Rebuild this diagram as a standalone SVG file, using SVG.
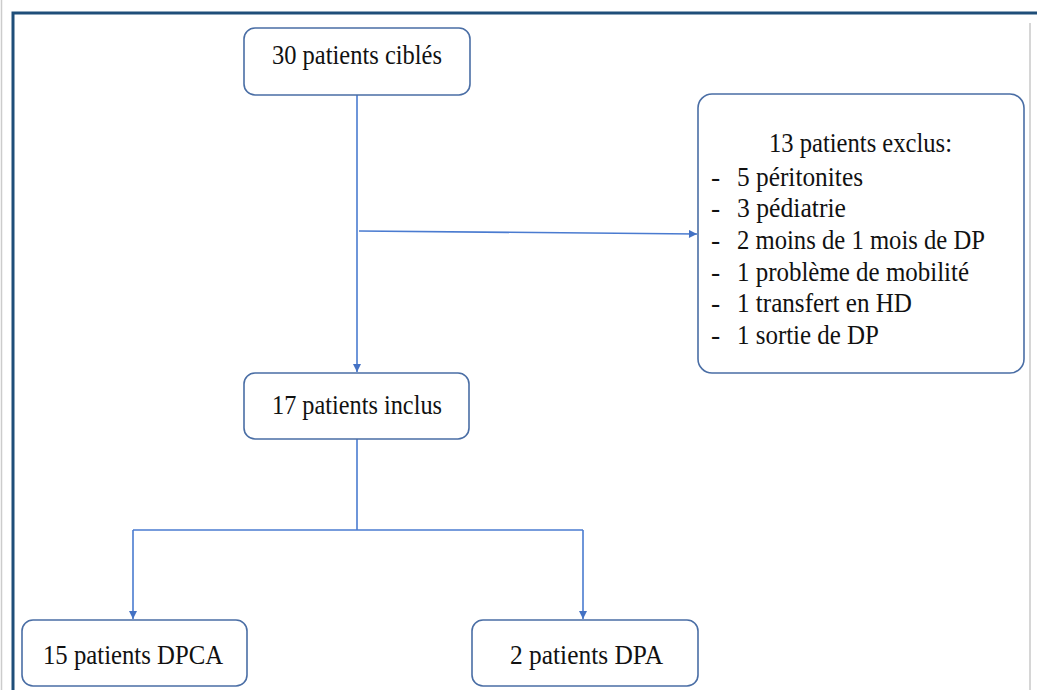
<svg xmlns="http://www.w3.org/2000/svg" width="1037" height="690" viewBox="0 0 1037 690">
<style>
.box{fill:#ffffff;stroke:#4a6ea5;stroke-width:1.6}
.t{font-family:"Liberation Serif","Times New Roman",serif;font-size:27.5px;fill:#111111}
.c{fill:none;stroke:#4a7bd0;stroke-width:1.6}
</style>
<defs>
<marker id="ah" viewBox="0 0 10 10" refX="10" refY="5" markerWidth="9" markerHeight="8" markerUnits="userSpaceOnUse" orient="auto">
<path d="M0,0 L10,5 L0,10 z" fill="#4472c4"/>
</marker>
</defs>
<rect x="0" y="0" width="1037" height="690" fill="#ffffff"/>
<line x1="1.5" y1="0" x2="1.5" y2="690" stroke="#cccccc" stroke-width="1.5"/>
<line x1="1030" y1="23" x2="1030" y2="690" stroke="#c8c8c8" stroke-width="1.5"/>
<path d="M13,690 L13,13 L1037,13" fill="none" stroke="#1f4e79" stroke-width="3"/>
<g id="connectors">
<line class="c" x1="357" y1="95" x2="357" y2="372" marker-end="url(#ah)"/>
<line class="c" x1="359" y1="231" x2="697" y2="234" marker-end="url(#ah)"/>
<polyline class="c" points="357,439 357,530"/>
<polyline class="c" points="133,530 583,530"/>
<line class="c" x1="133" y1="530" x2="133" y2="619" marker-end="url(#ah)"/>
<line class="c" x1="583" y1="530" x2="583" y2="619" marker-end="url(#ah)"/>
</g>
<g id="node-cibles">
<rect class="box" x="244" y="28" width="226" height="67" rx="11"/>
<text class="t" x="272" y="64" textLength="170" lengthAdjust="spacingAndGlyphs">30 patients ciblés</text>
</g>
<g id="node-exclus">
<rect class="box" x="698" y="94" width="326" height="279" rx="14"/>
<text class="t" x="769" y="152" textLength="183" lengthAdjust="spacingAndGlyphs">13 patients exclus:</text>
<text class="t" x="711" y="186">-</text><text class="t" x="737" y="186" textLength="126" lengthAdjust="spacingAndGlyphs">5 péritonites</text>
<text class="t" x="711" y="217">-</text><text class="t" x="737" y="217" textLength="109" lengthAdjust="spacingAndGlyphs">3 pédiatrie</text>
<text class="t" x="711" y="249">-</text><text class="t" x="737" y="249" textLength="248" lengthAdjust="spacingAndGlyphs">2 moins de 1 mois de DP</text>
<text class="t" x="711" y="281">-</text><text class="t" x="737" y="281" textLength="232" lengthAdjust="spacingAndGlyphs">1 problème de mobilité</text>
<text class="t" x="711" y="312">-</text><text class="t" x="737" y="312" textLength="175" lengthAdjust="spacingAndGlyphs">1 transfert en HD</text>
<text class="t" x="711" y="344">-</text><text class="t" x="737" y="344" textLength="142" lengthAdjust="spacingAndGlyphs">1 sortie de DP</text>
</g>
<g id="node-inclus">
<rect class="box" x="244" y="373" width="225" height="66" rx="11"/>
<text class="t" x="272" y="414" textLength="170" lengthAdjust="spacingAndGlyphs">17 patients inclus</text>
</g>
<g id="node-dpca">
<rect class="box" x="22" y="620" width="225" height="66" rx="11"/>
<text class="t" x="43" y="664" textLength="180" lengthAdjust="spacingAndGlyphs">15 patients DPCA</text>
</g>
<g id="node-dpa">
<rect class="box" x="472" y="620" width="226" height="66" rx="11"/>
<text class="t" x="510" y="664" textLength="153" lengthAdjust="spacingAndGlyphs">2 patients DPA</text>
</g>
</svg>
